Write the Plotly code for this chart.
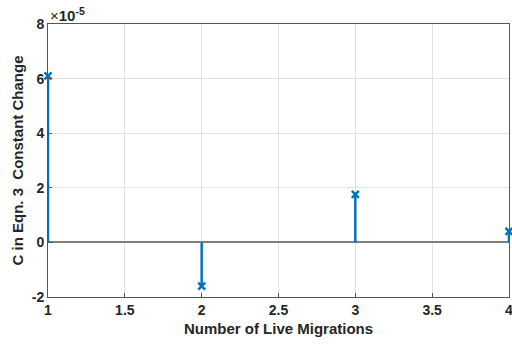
import plotly.graph_objects as go

migrations = [1, 2, 3, 4]
c_change = [6.1e-5, -1.6e-5, 1.76e-5, 0.4e-5]
scale = 1e-5
x_ticks = [1, 1.5, 2, 2.5, 3, 3.5, 4]
x_tick_text = ["1", "1.5", "2", "2.5", "3", "3.5", "4"]
y_ticks = [-2, 0, 2, 4, 6, 8]

vals = [v / scale for v in c_change]
sx, sy = [], []
for xv, yv in zip(migrations, vals):
    sx += [xv, xv, None]
    sy += [0, yv, None]

blue = "#0072BD"
fig = go.Figure()
fig.add_trace(go.Scatter(x=sx, y=sy, mode="lines", line=dict(color=blue, width=2.5),
                         hoverinfo="skip", showlegend=False))
fig.add_trace(go.Scatter(x=migrations, y=vals, mode="markers",
                         marker=dict(symbol="x-thin", size=7, line=dict(color=blue, width=2.5)),
                         showlegend=False, cliponaxis=False))

font = dict(family="Liberation Sans, Arial, sans-serif", size=14, color="#262626")
fig.update_layout(
    width=512, height=347,
    margin=dict(l=48, r=3, t=24, b=50, autoexpand=False),
    paper_bgcolor="white", plot_bgcolor="white",
    font=font,
    xaxis=dict(range=[1, 4], tickvals=x_ticks, ticktext=["<b>%s</b>" % t for t in x_tick_text],
               ticklabeloverflow="allow", automargin=False,
               showgrid=True, gridcolor="#e3e3e3", gridwidth=1,
               showline=True, linecolor="#555555", linewidth=1, mirror=True,
               ticks="inside", ticklen=4, tickcolor="#555555", zeroline=False,
               title=dict(text="<b>Number of Live Migrations</b>", font=dict(size=15), standoff=6)),
    yaxis=dict(range=[-2, 8], tickvals=y_ticks, ticktext=["<b>%d</b>" % t for t in y_ticks],
               automargin=False,
               showgrid=True, gridcolor="#e3e3e3", gridwidth=1,
               showline=True, linecolor="#555555", linewidth=1, mirror=True,
               ticks="inside", ticklen=4, tickcolor="#555555",
               zeroline=True, zerolinecolor="#7f7f7f", zerolinewidth=1.5,
               title=dict(text="<b>C in Eqn. 3  Constant Change</b>", font=dict(size=15), standoff=4)),
    annotations=[dict(text="×<b>10<sup>-5</sup></b>", xref="paper", yref="paper",
                      x=0, y=1, xanchor="left", yanchor="bottom", showarrow=False,
                      font=dict(size=15, color="#262626"), xshift=0, yshift=-2)],
)
fig.write_html("out.html")
